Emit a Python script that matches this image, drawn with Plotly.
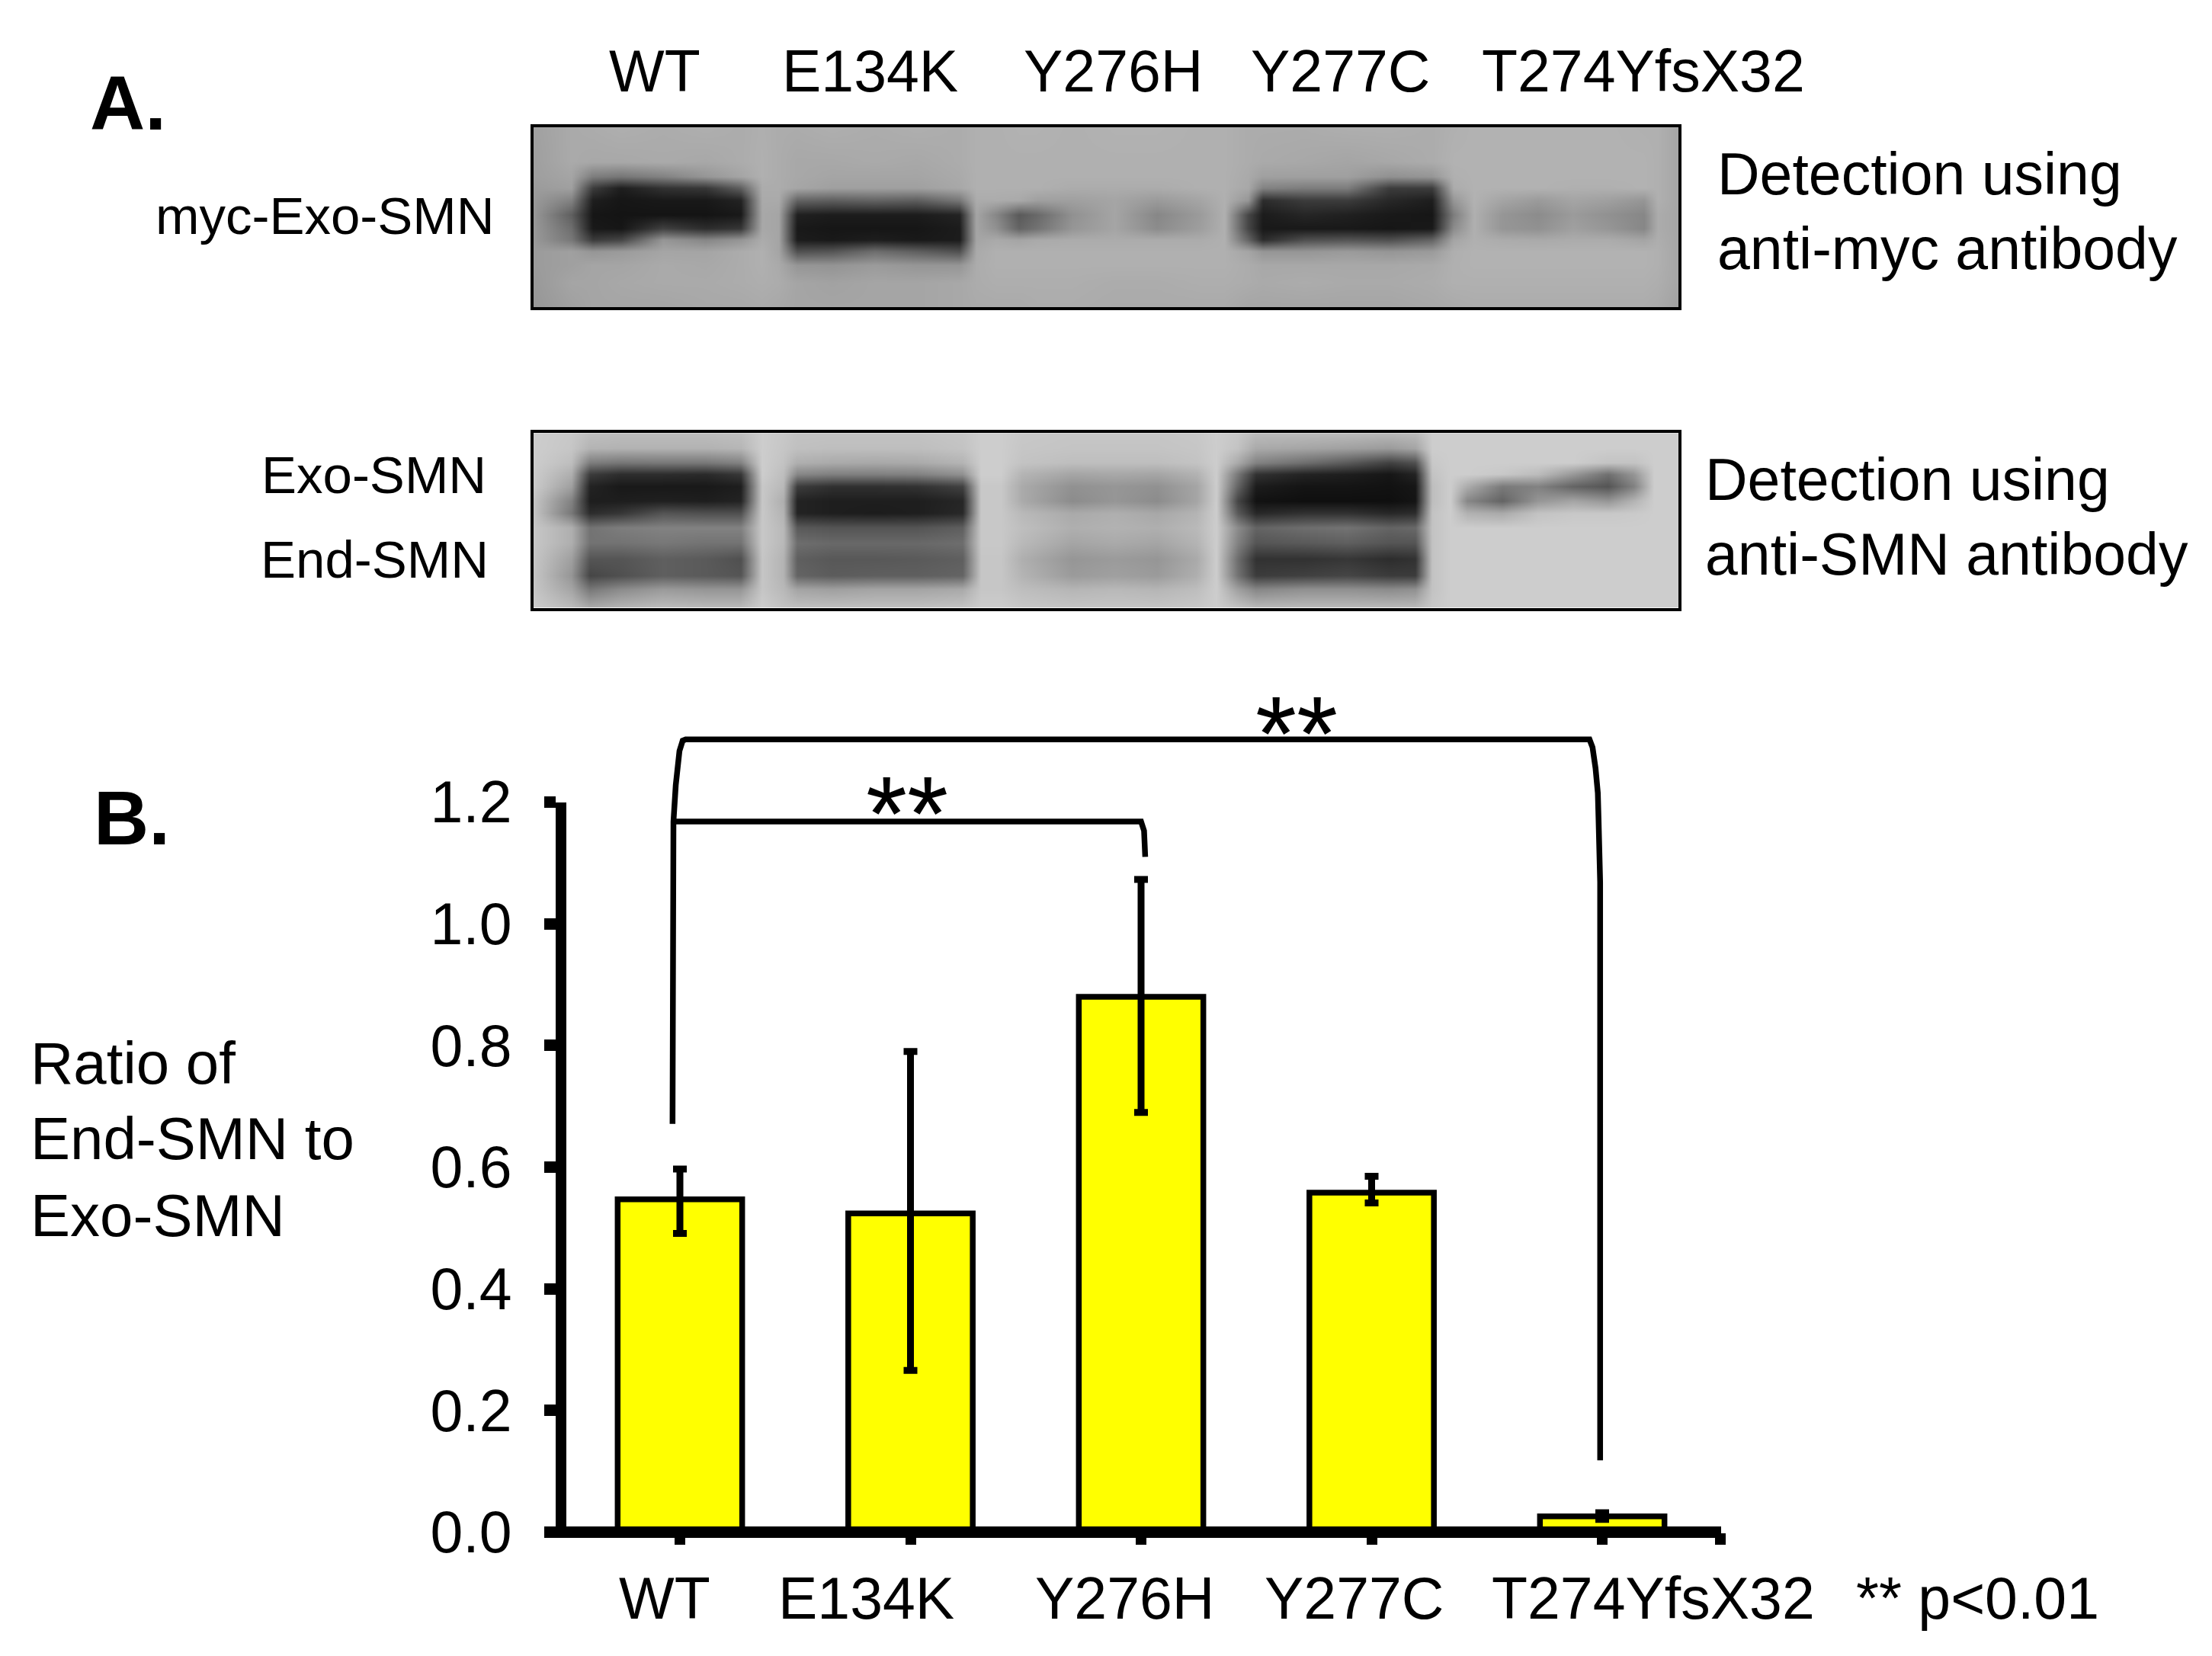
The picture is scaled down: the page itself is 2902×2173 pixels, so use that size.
import plotly.graph_objects as go

W, H = 2902, 2173
S = W / 1568

categories = ["WT", "E134K", "Y276H", "Y277C", "T274YfsX32"]
ratio = [0.547, 0.524, 0.88, 0.558, 0.026]
err_plus = [0.05, 0.266, 0.193, 0.027, 0.006]
err_minus = [0.056, 0.258, 0.19, 0.017, 0.005]
y_ticks = [0.0, 0.2, 0.4, 0.6, 0.8, 1.0, 1.2]

bracket_long_x = [-0.032, -0.032, -0.028, -0.018, -0.008, -0.002, 0.012, 0.025,
                  3.945, 3.958, 3.971, 3.981, 3.984, 3.988, 3.991, 3.991]
bracket_long_y = [0.671, 1.078, 1.168, 1.228, 1.265, 1.284, 1.301, 1.303,
                  1.303, 1.290, 1.256, 1.215, 1.174, 1.131, 1.069, 0.118]
bracket_short_x = [-0.028, 2.000, 2.013, 2.018]
bracket_short_y = [1.168, 1.168, 1.153, 1.110]

blot_a_x = [377, 405, 420, 440, 470, 500, 525, 540, 552, 565, 590, 620, 650, 680, 692, 706, 722, 735, 760,
            790, 820, 850, 868, 885, 895, 925, 955, 985, 1015, 1030, 1045, 1065, 1090, 1115, 1140, 1165, 1175, 1191]
blot_a_y = [89, 115, 125, 133, 142, 152, 162, 170, 178, 188, 200, 219]
blot_a = [
    [160,170,172,175,172,175,172,175,172,172,175,172,175,172,176,176,178,178,176,178,178,176,176,172,172,172,175,175,172,176,178,178,178,178,178,176,176,165],
    [158,170,168,168,170,168,172,176,172,168,168,170,168,172,176,176,176,176,176,176,176,176,176,172,170,168,165,168,172,178,178,178,178,178,178,178,176,165],
    [158,165,125,118,130,150,165,176,172,168,165,165,165,170,176,176,176,176,176,176,176,176,176,170,160,160,160,145,150,176,178,178,178,178,178,178,176,165],
    [155,160, 60, 30, 50, 55, 95,172,172,166,160,160,160,168,176,176,176,176,172,172,172,176,176,168,130,125,125, 60, 60,172,178,178,178,176,176,178,176,165],
    [155,130, 30, 22, 25, 25, 35,170,170,100, 95,100, 95,120,172,172,170,160,160,165,155,165,176,150, 45, 60, 60, 40, 30,150,178,165,155,165,160,150,176,165],
    [155, 95, 22, 20, 20, 20, 25,168,165, 32, 28, 28, 28, 35,165,135, 90,105,145,165,135,155,176, 70, 28, 38, 32, 25, 22,125,176,150,140,155,145,135,172,165],
    [155,110, 25, 22, 65, 45, 55,168,165, 25, 22, 22, 22, 28,165,145,100,115,150,165,140,158,176, 70, 25, 25, 25, 22, 25,140,176,150,145,160,150,135,172,165],
    [155,120, 60, 70,150,135,150,172,165, 28, 25, 30, 25, 28,165,170,165,170,172,172,172,172,176,100, 45, 80, 85, 80,100,165,176,172,170,172,172,165,174,165],
    [155,160,150,155,165,165,172,176,165, 80, 85,110, 95, 80,170,176,176,176,176,176,176,176,176,165,150,150,155,150,155,175,178,178,178,178,178,178,176,165],
    [155,160,165,165,170,168,172,176,170,150,148,155,150,150,172,176,176,176,176,176,176,176,176,172,168,168,168,168,170,176,178,178,178,178,178,178,176,165],
    [152,165,165,168,170,170,172,174,172,165,162,165,165,168,172,174,174,174,174,172,172,174,174,172,170,172,170,170,172,176,176,176,176,176,176,176,174,165],
    [150,160,165,165,165,168,168,170,168,165,165,165,165,168,170,170,170,172,172,170,170,170,170,165,165,165,165,165,168,170,172,172,172,172,172,172,170,160],
]

blot_b_x = [377, 405, 418, 440, 470, 500, 525, 540, 555, 565, 590, 620, 650, 682, 695, 710, 725, 760, 790,
            820, 848, 862, 877, 890, 925, 955, 985, 1003, 1015, 1028, 1040, 1065, 1090, 1115, 1140, 1158, 1172, 1191]
blot_b_y = [306, 318, 328, 336, 345, 355, 364, 374, 385, 396, 408, 418, 432]
blot_b = [
    [205,200,192,190,190,190,192,205,200,195,195,195,195,198,205,205,200,198,198,198,200,205,200,190,190,190,188,190,205,205,205,205,205,205,205,205,205,205],
    [205,198,180,178,178,178,182,205,198,192,190,190,190,195,205,205,198,196,196,196,198,205,195,170,165,160,155,165,205,205,205,205,205,205,205,205,205,205],
    [205,190,125,118,120,120,130,205,195,175,170,168,170,180,205,205,195,190,190,190,195,205,170,130,110, 90, 65, 80,200,205,205,205,205,205,195,195,205,205],
    [205,175, 60, 45, 45, 42, 55,205,190,135,128,128,130,145,205,205,180,165,168,165,178,205,120, 50, 35, 30, 22, 35,195,205,205,200,188,152,112,150,205,205],
    [205,160, 35, 25, 25, 25, 30,200,185, 60, 48, 48, 50, 65,200,200,170,145,150,145,165,205,100, 28, 20, 20, 18, 22,190,205,172,122,130,100, 85,130,205,205],
    [200,130, 30, 30, 32, 30, 35,200,175, 35, 30, 30, 30, 38,200,200,170,140,150,140,165,205, 70, 18, 15, 15, 15, 20,190,205,135,100,150,165,150,180,205,205],
    [200,120, 45, 55, 85, 80, 80,200,180, 35, 30, 28, 30, 40,200,200,185,170,175,168,180,205, 90, 40, 50, 50, 40, 45,195,205,178,170,195,200,200,202,205,205],
    [200,175,115,125,130,130,130,200,185, 90, 85, 85, 85, 95,200,200,190,175,178,175,185,205,140,100,110,115,100,105,195,205,205,205,205,205,205,205,205,205],
    [200,175,115,115,120,115,115,200,185,110,105,105,105,110,200,200,185,165,170,165,180,205,130, 85, 90, 95, 85, 85,195,205,205,205,205,205,205,205,205,205],
    [200,160, 85, 85, 95, 90, 80,198,180, 95, 88, 88, 90, 95,198,198,175,150,155,150,170,205,110, 50, 50, 55, 45, 50,195,205,205,205,205,205,205,205,205,205],
    [200,150, 70, 80, 95, 90, 85,198,180,100, 92, 95, 95,100,198,198,180,155,160,155,175,205,115, 60, 65, 70, 60, 60,195,205,205,205,205,205,205,205,205,205],
    [200,165,120,140,155,150,150,198,185,165,160,165,165,170,198,198,190,182,185,182,190,205,160,135,145,145,140,145,195,205,205,205,205,205,205,205,205,205],
    [205,190,175,185,192,190,190,205,195,195,195,195,195,198,205,205,200,198,198,198,200,205,198,190,190,190,190,190,200,205,205,205,205,205,205,205,205,205],
]

FONT = "Liberation Sans"

# layout geometry, in pixels of the full-size page
PX_PER_CAT = 302.5
PX_PER_UNIT = 798.3
X_ZERO = 892
Y_ZERO = 2010.5


def px_x(px):
    return px / W


def px_y(py):
    return 1 - py / H


def fx(px):
    return px_x(px * S)


def fy(py):
    return px_y(py * S)


def cat_at(px):
    return (px - X_ZERO) / PX_PER_CAT


def val_at(py):
    return (Y_ZERO - py) / PX_PER_UNIT


fig = go.Figure()

gray = [[0, "#000000"], [1, "#ffffff"]]
fig.add_trace(go.Heatmap(x=blot_a_x, y=blot_a_y, z=blot_a, xaxis="x2", yaxis="y2", zsmooth="best",
                         colorscale=gray, zmin=0, zmax=255, showscale=False, hoverinfo="skip"))
fig.add_trace(go.Heatmap(x=blot_b_x, y=blot_b_y, z=blot_b, xaxis="x3", yaxis="y3", zsmooth="best",
                         colorscale=gray, zmin=0, zmax=255, showscale=False, hoverinfo="skip"))

positions = list(range(len(categories)))
fig.add_trace(go.Bar(
    x=positions, y=ratio, width=0.54, marker=dict(color="#ffff00", line=dict(color="#000000", width=7.5)),
    error_y=dict(type="data", symmetric=False, array=err_plus, arrayminus=err_minus,
                 color="#000000", thickness=9, width=9),
    showlegend=False,
))
for bx, by in ((bracket_long_x, bracket_long_y), (bracket_short_x, bracket_short_y)):
    fig.add_trace(go.Scatter(x=bx, y=by, xaxis="x4", yaxis="y4", mode="lines",
                             line=dict(color="#000000", width=7.5),
                             showlegend=False, hoverinfo="skip"))

annotations = []


def note(text, px, py, anchor="center", size=77, bold=False):
    annotations.append(dict(
        text=f"<b>{text}</b>" if bold else text, x=fx(px), y=fy(py), xref="paper", yref="paper",
        xanchor=anchor, yanchor="middle", showarrow=False, borderpad=0,
        font=dict(family=FONT, size=size, color="#000000"),
    ))


note("A.", 63, 73, "left", 100, True)
note("B.", 66, 580, "left", 100, True)
for label, px in zip(categories, [464, 617, 789, 950, 1165]):
    note(label, px, 50)
for label, px in zip(categories, [471, 614, 797, 960, 1172]):
    note(label, px, 1133)
note("** p&lt;0.01", 1315, 1133, "left")
note("myc-Exo-SMN", 351, 153, "right", 69)
note("Exo-SMN", 345, 337, "right", 69)
note("End-SMN", 347, 397, "right", 69)
note("Detection using", 1217, 123, "left", 77)
note("anti-myc antibody", 1217, 176, "left", 77)
note("Detection using", 1208, 340, "left", 77)
note("anti-SMN antibody", 1208, 393, "left", 77)
note("Ratio of", 21, 754, "left", 78)
note("End-SMN to", 21, 807, "left", 78)
note("Exo-SMN", 21, 862, "left", 78)
note("**", 919, 520, "center", 139)
note("**", 643, 577, "center", 139)

frame = dict(showline=True, mirror=True, linecolor="#000000", linewidth=4, ticks="",
             showticklabels=False, showgrid=False, zeroline=False)

fig.update_layout(
    width=W, height=H, margin=dict(l=0, r=0, t=0, b=0, autoexpand=False),
    paper_bgcolor="#ffffff", plot_bgcolor="rgba(0,0,0,0)",
    showlegend=False, annotations=annotations,
    font=dict(family=FONT, color="#000000"),
    xaxis=dict(domain=[px_x(743), px_x(2258)], range=[cat_at(743), cat_at(2258)],
               tickvals=positions + [cat_at(2257)], showticklabels=False,
               ticks="outside", ticklen=15, tickwidth=14, tickcolor="#000000",
               showline=False, showgrid=False, zeroline=False),
    yaxis=dict(domain=[px_y(Y_ZERO), px_y(1052.5)], range=[0, 1.2], tickvals=y_ticks, tickformat=".1f",
               ticks="outside", ticklen=15, tickwidth=15, tickcolor="#000000", ticklabelstandoff=27,
               tickfont=dict(family=FONT, size=77, color="#000000"),
               showline=True, linecolor="#000000", linewidth=14, showgrid=False, zeroline=False),
    xaxis2=dict(domain=[fx(378), fx(1190)], range=[378, 1190], anchor="y2", **frame),
    yaxis2=dict(domain=[fy(218), fy(90)], range=[218, 90], anchor="x2", **frame),
    xaxis3=dict(domain=[fx(378), fx(1190)], range=[378, 1190], anchor="y3", **frame),
    yaxis3=dict(domain=[fy(431), fy(307)], range=[431, 307], anchor="x3", **frame),
    xaxis4=dict(domain=[px_x(714), px_x(2258)], range=[cat_at(714), cat_at(2258)], anchor="y4",
                showline=True, linecolor="#000000", linewidth=15, ticks="", showticklabels=False,
                showgrid=False, zeroline=False),
    yaxis4=dict(domain=[px_y(2003), px_y(892)], range=[val_at(2003), val_at(892)], anchor="x4",
                visible=False),
)

fig.write_html("out.html", config=dict(displayModeBar=False),
               post_script="document.body.style.margin='0';document.documentElement.style.overflow='hidden';")
